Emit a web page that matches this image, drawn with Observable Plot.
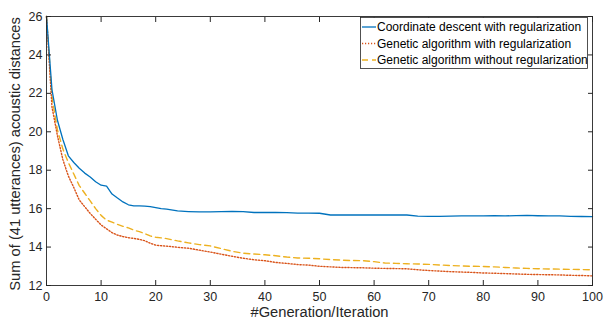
<!DOCTYPE html>
<html>
<head>
<meta charset="utf-8">
<script src="https://cdn.jsdelivr.net/npm/d3@7"></script>
<script src="https://cdn.jsdelivr.net/npm/@observablehq/plot@0.6"></script>
<style>
  html, body { margin: 0; padding: 0; background: #fff; }
  #chart { position: relative; width: 606px; height: 323px; }
  svg { font-family: "Liberation Sans", Arial, sans-serif; }
</style>
</head>
<body>
<div id="chart"></div>
<script>
const seriesNames = [
  "Coordinate descent with regularization",
  "Genetic algorithm with regularization",
  "Genetic algorithm without regularization"
];
const xLabel = "#Generation/Iteration";
const yLabel = "Sum of (41 utterances) acoustic distances";
const generations = [0,1,2,3,4,5,6,7,8,9,10,11,12,13,14,15,16,17,18,19,20,21,22,24,26,28,30,32,34,36,38,40,42,44,46,48,50,52,54,56,58,60,62,64,66,68,70,72,74,76,78,80,82,84,86,88,90,92,94,96,98,100];
const coordDescent = [26,22.2,20.6,19.6,18.75,18.4,18.1,17.85,17.65,17.4,17.22,17.17,16.76,16.55,16.35,16.2,16.14,16.14,16.13,16.1,16.05,16.0,15.98,15.88,15.85,15.83,15.83,15.84,15.86,15.84,15.8,15.8,15.8,15.79,15.77,15.77,15.76,15.67,15.67,15.67,15.67,15.68,15.67,15.67,15.67,15.61,15.6,15.6,15.61,15.62,15.62,15.62,15.63,15.62,15.64,15.65,15.63,15.62,15.62,15.6,15.59,15.58];
const gaWithReg = [26,21.3,19.8,18.55,17.7,17.1,16.45,16.1,15.75,15.45,15.15,14.95,14.75,14.62,14.55,14.49,14.45,14.4,14.33,14.2,14.1,14.07,14.05,13.99,13.94,13.84,13.74,13.63,13.52,13.42,13.34,13.29,13.2,13.15,13.09,13.06,13.0,12.97,12.94,12.93,12.92,12.9,12.89,12.88,12.87,12.82,12.78,12.75,12.72,12.7,12.68,12.65,12.64,12.62,12.6,12.58,12.57,12.56,12.55,12.53,12.52,12.5];
const gaWithoutReg = [26,21.8,20.1,19.1,18.4,17.8,17.2,16.8,16.4,16.0,15.65,15.4,15.3,15.18,15.08,15.0,14.88,14.8,14.7,14.58,14.51,14.48,14.44,14.32,14.22,14.13,14.06,13.92,13.78,13.68,13.64,13.6,13.55,13.48,13.43,13.42,13.39,13.35,13.32,13.3,13.29,13.24,13.17,13.15,13.13,13.12,13.1,13.07,13.04,13.02,13.0,12.99,12.97,12.94,12.91,12.89,12.87,12.86,12.85,12.84,12.83,12.82];
const xTicks = [0,10,20,30,40,50,60,70,80,90,100];
const yTicks = [12,14,16,18,20,22,24,26];
const colors = ["#0072BD", "#D95319", "#EDB120"];
const dashes = [null, "1.2,1.8", "6,4"];

const seriesValues = [coordDescent, gaWithReg, gaWithoutReg];
const rows = [];
seriesValues.forEach((vals, s) => vals.forEach((v, i) => rows.push({series: seriesNames[s], gen: generations[i], value: v})));

const lineMark = (s) => Plot.line(rows.filter(d => d.series === seriesNames[s]), {
  x: "gen", y: "value", stroke: colors[s], strokeWidth: s === 0 ? 1.3 : 1.4,
  strokeDasharray: dashes[s] || undefined, curve: "linear"
});

const ink = "#262626";
const chart = Plot.plot({
  width: 606, height: 323,
  marginLeft: 46, marginRight: 14, marginTop: 16, marginBottom: 38,
  style: {fontFamily: '"Liberation Sans", Arial, sans-serif', color: ink, background: "#fff"},
  x: {domain: [0, 100]},
  y: {domain: [12, 26]},
  marks: [
    lineMark(2), lineMark(1), lineMark(0),
    Plot.frame({stroke: ink, strokeWidth: 0.9}),
    Plot.axisX(xTicks, {anchor: "bottom", tickSize: -5, tickPadding: 12, fontSize: 12.5, label: null, stroke: ink}),
    Plot.axisX(xTicks, {anchor: "top", tickSize: -5, tickFormat: () => "", label: null, stroke: ink}),
    Plot.axisY(yTicks, {anchor: "left", tickSize: -5, tickPadding: 9, fontSize: 12.5, label: null, stroke: ink}),
    Plot.axisY(yTicks, {anchor: "right", tickSize: -5, tickFormat: () => "", label: null, stroke: ink}),
    Plot.text([xLabel], {frameAnchor: "bottom", text: d => d, dy: 31, fontSize: 14.7, fill: ink}),
    Plot.text([yLabel], {frameAnchor: "left", text: d => d, rotate: -90, textAnchor: "middle", dx: -31, dy: 3, fontSize: 14.7, fill: ink})
  ]
});
document.getElementById("chart").appendChild(chart);

// Legend box drawn inside the SVG
const svg = d3.select(chart);
const lg = svg.append("g").attr("font-family", '"Liberation Sans", Arial, sans-serif').attr("font-size", 12).attr("text-anchor", "start");
lg.append("rect").attr("x", 360.5).attr("y", 17.5).attr("width", 227).attr("height", 51)
  .attr("fill", "#fff").attr("stroke", ink).attr("stroke-width", 0.8);
seriesNames.forEach((name, i) => {
  const y = 27 + i * 16.5;
  lg.append("line").attr("x1", 362).attr("x2", 376).attr("y1", y).attr("y2", y)
    .attr("stroke", colors[i]).attr("stroke-width", 1.3)
    .attr("stroke-dasharray", dashes[i]);
  lg.append("text").attr("x", 377).attr("y", y).attr("dy", "0.35em").attr("text-anchor", "start").attr("fill", "#000").text(name);
});
</script>
</body>
</html>
